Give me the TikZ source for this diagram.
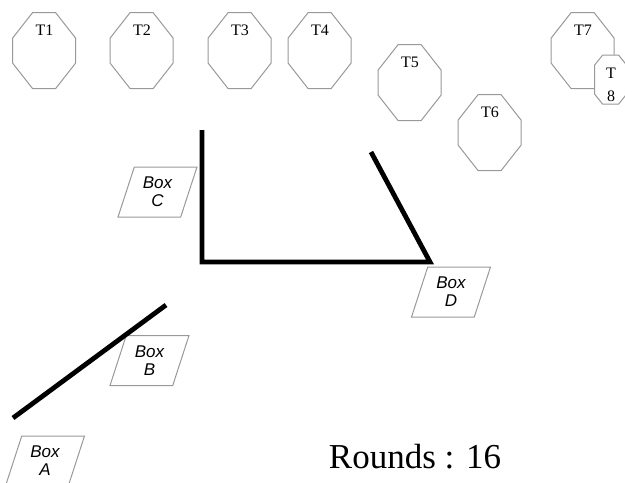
\documentclass[tikz,border=0pt]{standalone}
\usepackage{fontspec}
\setmainfont{Liberation Serif}
\setsansfont{Liberation Sans}
\usetikzlibrary{shapes.geometric}

\begin{document}
\begin{tikzpicture}[
  x=0.5pt, y=-0.5pt,
  outline/.style={draw=gray!80, fill=white, line width=0.5pt},
  % octagon: width / height / corner cut x / corner cut y (pt)
  tower/.style n args={4}{minimum width=#1pt, minimum height=#2pt, inner sep=0pt,
    append after command={\pgfextra{
      \draw[outline] (\tikzlastnode.north west) ++(#3pt,0)
        -- ++({#1pt-2*#3pt},0) -- ++(#3pt,-#4pt) -- ++(0,{-#2pt+2*#4pt})
        -- ++(-#3pt,-#4pt) -- ++({-#1pt+2*#3pt},0) -- ++(-#3pt,#4pt)
        -- ++(0,{#2pt-2*#4pt}) -- cycle;}}},
  big tower/.style={tower={31.5}{38}{10}{12.75}},
  small tower/.style={tower={16}{24.5}{4}{5}},
  tname/.style={font=\fontsize{8}{11.5}\selectfont, anchor=center, yshift=-9pt,
                align=center},
  crate/.style={trapezium, trapezium left angle=71, trapezium right angle=109,
                trapezium stretches=true, draw=gray!80, line width=0.5pt,
                minimum width=39.5pt, minimum height=25pt, inner sep=0pt,
                align=center, font=\sffamily\itshape\fontsize{8.5}{9}\selectfont},
  wall/.style={line width=2.4pt},
]
  \useasboundingbox (0,0) rectangle (625,482);

  % --- towers ---
  \node[big tower, label={[tname]north:T1}] (t1) at (44.5,51) {};
  \node[big tower, label={[tname]north:T2}] (t2) at (142,51) {};
  \node[big tower, label={[tname]north:T3}] (t3) at (240,51) {};
  \node[big tower, label={[tname]north:T4}] (t4) at (320,51) {};
  \node[big tower, label={[tname]north:T5}] (t5) at (410,83) {};
  \node[big tower, label={[tname]north:T6}] (t6) at (490,133) {};
  \node[big tower, label={[tname]north:T7}] (t7) at (583,51) {};
  \node[small tower, label={[tname, yshift=-6pt]north:T\\8}] (t8) at (611,80) {};

  % --- boxes ---
  \node[crate] (boxa) at (45,461) {Box\\A};
  \node[crate] (boxb) at (149.5,360.5) {Box\\B};
  \node[crate] (boxc) at (157.5,192) {Box\\C};
  \node[crate] (boxd) at (451,292) {Box\\D};

  % --- walls ---
  \coordinate (w1) at (202,130);
  \coordinate (w2) at (202,262);
  \coordinate (w3) at (430,262);
  \coordinate (w4) at (371,152);
  \draw[wall] (w1) -- (w2) -- (w3) -- (w4);
  \coordinate (v1) at (166,305);
  \coordinate (v2) at (13,418);
  \draw[wall] (v1) -- (v2);

  \node[font=\fontsize{17.5}{20}\selectfont, anchor=base] (rounds) at (415,468)
    {Rounds : 16};
\end{tikzpicture}
\end{document}
